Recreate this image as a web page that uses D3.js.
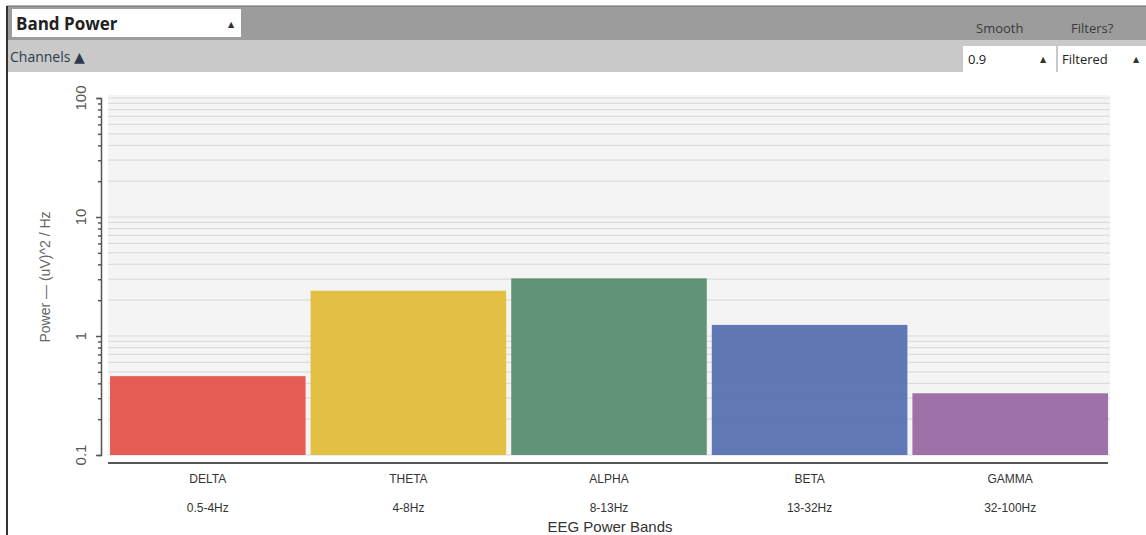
<!DOCTYPE html>
<html>
<head>
<meta charset="utf-8">
<script src="https://cdn.jsdelivr.net/npm/d3@7"></script>
<style>
  html, body { margin: 0; padding: 0; background: #fff; }
  svg { display: block; }
</style>
</head>
<body>
<svg id="chart" width="1146" height="535"></svg>
<script>
// EEG band power, one bar per band
const bands = ["DELTA", "THETA", "ALPHA", "BETA", "GAMMA"];
const ranges = ["0.5-4Hz", "4-8Hz", "8-13Hz", "13-32Hz", "32-100Hz"];
const power = [0.46, 2.4, 3.05, 1.24, 0.33];
const colors = ["#e5574c", "#e1bd3c", "#5b8f73", "#5a74b3", "#9a6ba5"];
const yTicks = [0.1, 1, 10, 100];

const svg = d3.select("#chart");
const uiFont = "'Open Sans', 'DejaVu Sans', sans-serif";
const chartFont = "'Liberation Sans', Arial, sans-serif";

// ---- widget header ----
svg.append("rect").attr("x", 7).attr("y", 6).attr("width", 1139).attr("height", 34).attr("fill", "#9c9c9c");
svg.append("rect").attr("x", 7).attr("y", 40).attr("width", 1139).attr("height", 32).attr("fill", "#c9c9c9");
svg.append("line").attr("x1", 7).attr("x2", 1146).attr("y1", 6).attr("y2", 6).attr("stroke", "#666").attr("stroke-width", 1);
svg.append("line").attr("x1", 7).attr("x2", 7).attr("y1", 6).attr("y2", 535).attr("stroke", "#333").attr("stroke-width", 2);

// mode dropdown
svg.append("rect").attr("x", 12).attr("y", 9).attr("width", 229).attr("height", 28).attr("fill", "#fff");
svg.append("text").attr("x", 16).attr("y", 30).attr("font-family", uiFont).attr("font-weight", "bold")
  .attr("font-size", 17).attr("fill", "#222").text("Band Power");
svg.append("text").attr("x", 228).attr("y", 27).attr("font-family", uiFont).attr("font-size", 8)
  .attr("fill", "#333").text("▲");

svg.append("text").attr("x", 976).attr("y", 33).attr("font-family", uiFont).attr("font-size", 13)
  .attr("fill", "#3a3a3a").text("Smooth");
svg.append("text").attr("x", 1071).attr("y", 33).attr("font-family", uiFont).attr("font-size", 13)
  .attr("fill", "#3a3a3a").text("Filters?");

// channels row
svg.append("text").attr("x", 10).attr("y", 62).attr("font-family", uiFont).attr("font-size", 14)
  .attr("fill", "#2c3b4c").text("Channels ▲");

svg.append("rect").attr("x", 963).attr("y", 46).attr("width", 93).attr("height", 26).attr("fill", "#fff");
svg.append("rect").attr("x", 1058).attr("y", 46).attr("width", 88).attr("height", 26).attr("fill", "#fff");
svg.append("text").attr("x", 968).attr("y", 64).attr("font-family", uiFont).attr("font-size", 13)
  .attr("fill", "#222").text("0.9");
svg.append("text").attr("x", 1040).attr("y", 62).attr("font-family", uiFont).attr("font-size", 8)
  .attr("fill", "#333").text("▲");
svg.append("text").attr("x", 1062).attr("y", 64).attr("font-family", uiFont).attr("font-size", 13)
  .attr("fill", "#222").text("Filtered");
svg.append("text").attr("x", 1133).attr("y", 62).attr("font-family", uiFont).attr("font-size", 8)
  .attr("fill", "#333").text("▲");

// ---- plot ----
const y = d3.scaleLog().domain([0.1, 100]).range([455, 98]);
const x = d3.scaleBand().domain(bands).range([110, 1108]).paddingInner(0.025).paddingOuter(0);

// plot background
svg.append("rect").attr("x", 108).attr("y", 95).attr("width", 1002).attr("height", 360).attr("fill", "#f4f4f4");

// horizontal grid at every log tick
const gridVals = y.ticks();
svg.append("g").selectAll("line").data(gridVals).join("line")
  .attr("x1", 108).attr("x2", 1110)
  .attr("y1", d => y(d)).attr("y2", d => y(d))
  .attr("stroke", "#dcdcdc").attr("stroke-width", 1.2);

// bars
svg.append("g").selectAll("rect").data(bands).join("rect")
  .attr("x", d => x(d))
  .attr("width", x.bandwidth())
  .attr("y", (d, i) => y(power[i]))
  .attr("height", (d, i) => y(0.1) - y(power[i]))
  .attr("fill", (d, i) => colors[i])
  .attr("fill-opacity", 0.96);

// y axis: major ticks labelled, minor ticks short
const yAxis = svg.append("g").attr("transform", "translate(101,0)");
yAxis.call(d3.axisLeft(y).tickValues(gridVals).tickSize(3).tickFormat(""));
yAxis.select(".domain").attr("stroke", "#555").attr("stroke-width", 1.5);
yAxis.selectAll(".tick line").attr("stroke", "#555").attr("stroke-width", 1.5)
  .attr("x2", d => yTicks.includes(d) ? -5 : -3);

svg.append("g").selectAll("text").data(yTicks).join("text")
  .attr("transform", d => `translate(86,${y(d)}) rotate(-90)`)
  .attr("text-anchor", "middle")
  .attr("font-family", chartFont).attr("font-size", 15)
  .attr("fill", "#555")
  .text(d => d3.format("~g")(d));

svg.append("text")
  .attr("transform", "translate(50,277) rotate(-90)")
  .attr("text-anchor", "middle")
  .attr("font-family", chartFont).attr("font-size", 14)
  .attr("fill", "#666")
  .text("Power — (uV)^2 / Hz");

// x axis line
svg.append("line").attr("x1", 108).attr("x2", 1108).attr("y1", 463).attr("y2", 463)
  .attr("stroke", "#555").attr("stroke-width", 2);

// band labels
const xl = svg.append("g");
xl.selectAll("text.band").data(bands).join("text").attr("class", "band")
  .attr("x", d => x(d) + x.bandwidth() / 2).attr("y", 483)
  .attr("text-anchor", "middle").attr("font-family", chartFont).attr("font-size", 12)
  .attr("fill", "#333").text(d => d);
xl.selectAll("text.range").data(ranges).join("text").attr("class", "range")
  .attr("x", (d, i) => x(bands[i]) + x.bandwidth() / 2).attr("y", 512)
  .attr("text-anchor", "middle").attr("font-family", chartFont).attr("font-size", 12)
  .attr("fill", "#333").text(d => d);

svg.append("text").attr("x", 610).attr("y", 532).attr("text-anchor", "middle")
  .attr("font-family", chartFont).attr("font-size", 15).attr("fill", "#333")
  .text("EEG Power Bands");
</script>
</body>
</html>
